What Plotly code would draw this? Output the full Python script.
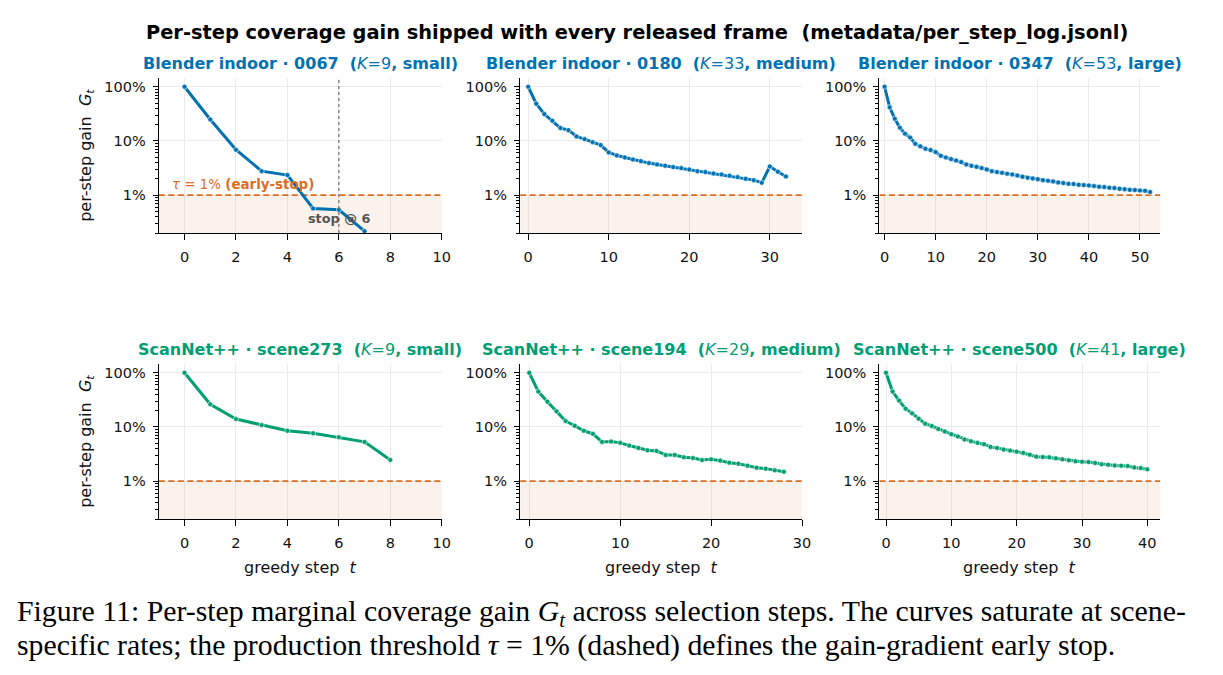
import math
import plotly.graph_objects as go
from plotly.subplots import make_subplots

W, H = 1223, 675

# ---------------- data ----------------
TAU = 0.01
STOP_STEP = 6
YMIN, YMAX = 0.002, 1.45

datasets = ["Blender indoor", "Blender indoor", "Blender indoor",
            "ScanNet++", "ScanNet++", "ScanNet++"]
scenes = ["0067", "0180", "0347", "scene273", "scene194", "scene500"]
K_vals = [9, 33, 53, 9, 29, 41]
size_labels = ["small", "medium", "large", "small", "medium", "large"]

g_blender_0067 = [1.0, 0.249, 0.0687, 0.0277, 0.0234, 0.00568, 0.00536, 0.00216]
g_blender_0180 = [1.0, 0.486, 0.313, 0.236, 0.173, 0.158, 0.121, 0.108, 0.095, 0.0838,
                  0.0614, 0.054, 0.0496, 0.0455, 0.0424, 0.039, 0.0368, 0.0348, 0.0329,
                  0.0315, 0.0298, 0.0277, 0.0266, 0.0251, 0.0241, 0.0228, 0.0215, 0.020,
                  0.0189, 0.0169, 0.0338, 0.027, 0.0221]
g_blender_0347 = [1.0, 0.417, 0.257, 0.175, 0.136, 0.116, 0.0887, 0.0794, 0.0716, 0.0677,
                  0.0622, 0.0532, 0.0496, 0.0462, 0.0436, 0.0407, 0.0368, 0.0348, 0.0333,
                  0.0315, 0.0298, 0.0277, 0.0266, 0.0258, 0.0248, 0.0241, 0.0231, 0.0218,
                  0.0209, 0.0203, 0.0197, 0.0189, 0.0184, 0.0179, 0.0171, 0.0167, 0.0162,
                  0.0160, 0.0155, 0.0153, 0.0151, 0.0147, 0.0143, 0.0141, 0.0137, 0.0135,
                  0.0131, 0.0129, 0.0125, 0.0124, 0.0122, 0.0120, 0.0114]
g_scannet_273 = [1.0, 0.262, 0.140, 0.108, 0.0849, 0.0768, 0.0647, 0.053, 0.0246]
g_scannet_194 = [1.0, 0.45, 0.293, 0.194, 0.128, 0.105, 0.085, 0.0747, 0.053, 0.0538,
                 0.0508, 0.0453, 0.041, 0.0371, 0.0361, 0.0304, 0.0304, 0.0275, 0.0267,
                 0.0245, 0.0252, 0.0239, 0.0219, 0.021, 0.0193, 0.0177, 0.017, 0.0158,
                 0.0149]
g_scannet_500 = [1.0, 0.45, 0.306, 0.217, 0.178, 0.142, 0.115, 0.104, 0.0912, 0.0824,
                 0.0736, 0.0666, 0.0586, 0.0546, 0.0508, 0.048, 0.0428, 0.041, 0.0382,
                 0.0366, 0.035, 0.0331, 0.0308, 0.0283, 0.0279, 0.0275, 0.0264, 0.0252,
                 0.0242, 0.0232, 0.0228, 0.0225, 0.0216, 0.0204, 0.0201, 0.0195, 0.0193,
                 0.019, 0.0179, 0.0174, 0.0165]

series = [g_blender_0067, g_blender_0180, g_blender_0347,
          g_scannet_273, g_scannet_194, g_scannet_500]
x_dticks = [2, 10, 10, 2, 10, 10]

# ---------------- style ----------------
BLUE = "#0072B2"
GREEN = "#009E73"
ORANGE = "#DD6E1E"
SHADE = "rgba(221,110,30,0.085)"
GRID = "#EBEBEB"
FONT = "DejaVu Sans"
TICK_SIZE = 14.5
LABEL_SIZE = 16

xdom_px = [(160, 445), (524, 808), (886, 1169)]
ydom_px = [(78, 233), (364, 519)]

fig = make_subplots(rows=2, cols=3)

annotations = []
shapes = []

for i in range(6):
    r, c = divmod(i, 3)
    color = BLUE if r == 0 else GREEN
    vals = series[i]
    steps = list(range(len(vals)))
    xr = [-1, K_vals[i] + 1]

    # shaded "below threshold" band
    fig.add_trace(go.Scatter(
        x=[xr[0], xr[1], xr[1], xr[0]], y=[YMIN, YMIN, TAU, TAU],
        mode="lines", fill="toself", fillcolor=SHADE, line=dict(width=0),
        showlegend=False, hoverinfo="skip"), row=r + 1, col=c + 1)
    # threshold line
    fig.add_trace(go.Scatter(
        x=xr, y=[TAU, TAU], mode="lines",
        line=dict(color=ORANGE, width=1.6, dash="6px,3.5px"),
        showlegend=False, hoverinfo="skip"), row=r + 1, col=c + 1)
    # data
    fig.add_trace(go.Scatter(
        x=steps, y=vals, mode="lines+markers",
        line=dict(color=color, width=3),
        marker=dict(size=5, color=color, line=dict(color="white", width=0.6)),
        showlegend=False, hoverinfo="skip"),
        row=r + 1, col=c + 1)

    ax = "" if i == 0 else str(i + 1)
    xa, ya = "x" + ax, "y" + ax
    x0p, x1p = xdom_px[c]
    y0p, y1p = ydom_px[r]
    fig.update_layout(**{
        "xaxis" + ax: dict(
            domain=[x0p / W, x1p / W], range=xr,
            tickmode="linear", tick0=0, dtick=x_dticks[i],
            ticks="outside", ticklen=6, tickwidth=1.2, tickcolor="black",
            ticklabelstandoff=4,
            showline=True, linecolor="black", linewidth=1.4,
            showgrid=True, gridcolor=GRID, gridwidth=0.8,
            zeroline=False, tickfont=dict(family=FONT, size=TICK_SIZE, color="#111"),
            anchor=ya),
        "yaxis" + ax: dict(
            domain=[1 - y1p / H, 1 - y0p / H], type="log",
            range=[math.log10(YMIN), math.log10(YMAX)],
            tickmode="linear", tick0=0, dtick=1, tickformat=".0%",
            ticks="outside", ticklen=5, tickwidth=1.2, tickcolor="black",
            ticklabelstandoff=4,
            minor=dict(ticks="outside", ticklen=3, tickwidth=0.9, tickcolor="black",
                       dtick="D1", showgrid=False),
            showline=True, linecolor="black", linewidth=1.4,
            showgrid=True, gridcolor=GRID, gridwidth=0.8,
            zeroline=False, tickfont=dict(family=FONT, size=TICK_SIZE, color="#111"),
            anchor=xa),
    })

    # subplot title
    title = (f"<b>{datasets[i]} · {scenes[i]}  (</b><i>K</i>={K_vals[i]}"
             f"<b>, {size_labels[i]})</b>")
    annotations.append(dict(
        text=title, xref="paper", yref="paper",
        x=(x0p + x1p) / 2 / W, y=1 - (y0p - 15) / H,
        xanchor="center", yanchor="middle", showarrow=False,
        font=dict(family=FONT, size=LABEL_SIZE, color=color)))

    if c == 0:
        annotations.append(dict(
            text="per-step gain  <i>G</i><sub><i>t</i></sub>",
            xref="paper", yref="paper", x=87 / W, y=1 - (y0p + y1p) / 2 / H,
            xanchor="center", yanchor="middle", textangle=-90, showarrow=False,
            font=dict(family=FONT, size=LABEL_SIZE, color="#111")))
    if r == 1:
        annotations.append(dict(
            text="greedy step  <i>t</i>", xref="paper", yref="paper",
            x=(x0p + x1p) / 2 / W, y=1 - 567 / H,
            xanchor="center", yanchor="middle", showarrow=False,
            font=dict(family=FONT, size=LABEL_SIZE, color="#111")))

    if i == 0:
        shapes.append(dict(type="line", xref=xa, yref=ya + " domain",
                           x0=STOP_STEP, x1=STOP_STEP, y0=0, y1=1,
                           line=dict(color="#777777", width=1.3, dash="dot"),
                           layer="above"))
        annotations.append(dict(
            text="<i>τ</i> = 1% <b>(early-stop)</b>", xref=xa, yref=ya,
            x=-0.55, y=math.log10(TAU), xanchor="left", yanchor="bottom",
            yshift=1, showarrow=False,
            font=dict(family=FONT, size=13.4, color=ORANGE)))
        annotations.append(dict(
            text=f"<b>stop @ {STOP_STEP}</b>", xref=xa, yref=ya,
            x=STOP_STEP, y=math.log10(TAU), xanchor="center", yanchor="middle",
            yshift=-23, showarrow=False,
            font=dict(family=FONT, size=12.8, color="#555555")))

# main title
annotations.append(dict(
    text="<b>Per-step coverage gain shipped with every released frame  "
         "(metadata/per_step_log.jsonl)</b>",
    xref="paper", yref="paper", x=642 / W, y=1 - 33 / H,
    xanchor="center", yanchor="middle", showarrow=False,
    font=dict(family=FONT, size=19.4, color="black")))

# caption
cap1 = ("Figure 11: Per-step marginal coverage gain <i>G</i><sub><i>t</i></sub> "
        "across selection steps. The curves saturate at scene-")
cap2 = ("specific rates; the production threshold <i>τ</i> = 1% (dashed) "
        "defines the gain-gradient early stop.")
for txt, yc in [(cap1, 613), (cap2, 645)]:
    annotations.append(dict(
        text=txt, xref="paper", yref="paper", x=15 / W, y=1 - yc / H,
        xanchor="left", yanchor="middle", showarrow=False,
        font=dict(family="Liberation Serif", size=29.8, color="black")))

fig.update_layout(
    width=W, height=H, margin=dict(l=0, r=0, t=0, b=0),
    paper_bgcolor="white", plot_bgcolor="white",
    annotations=annotations, shapes=shapes, showlegend=False,
    font=dict(family=FONT))

fig.write_html("out.html")
